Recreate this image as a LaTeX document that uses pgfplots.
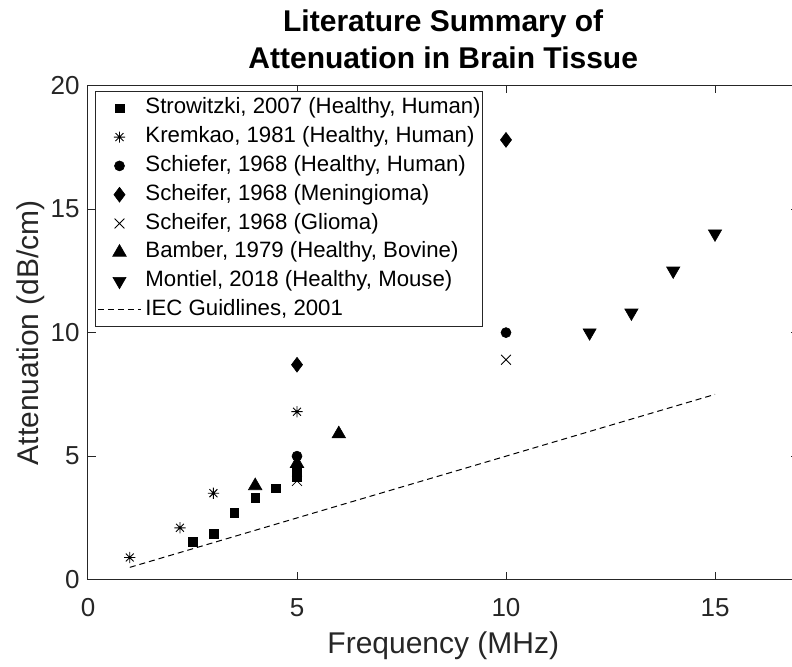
\documentclass[border=0pt]{standalone}
\usepackage{pgfplots}
\pgfplotsset{compat=1.18}
\usepackage{fontspec}
\setmainfont{Liberation Sans}
\definecolor{axgray}{rgb}{0.15,0.15,0.15}
\pgfdeclareplotmark{mstar}{%
  \pgfpathmoveto{\pgfqpoint{0pt}{\pgfplotmarksize}}\pgfpathlineto{\pgfqpoint{0pt}{-\pgfplotmarksize}}%
  \pgfpathmoveto{\pgfqpoint{\pgfplotmarksize}{0pt}}\pgfpathlineto{\pgfqpoint{-\pgfplotmarksize}{0pt}}%
  \pgfpathmoveto{\pgfqpoint{.7071\pgfplotmarksize}{.7071\pgfplotmarksize}}\pgfpathlineto{\pgfqpoint{-.7071\pgfplotmarksize}{-.7071\pgfplotmarksize}}%
  \pgfpathmoveto{\pgfqpoint{-.7071\pgfplotmarksize}{.7071\pgfplotmarksize}}\pgfpathlineto{\pgfqpoint{.7071\pgfplotmarksize}{-.7071\pgfplotmarksize}}%
  \pgfusepathqstroke}
\begin{document}
\begin{tikzpicture}
\path[use as bounding box] (-44pt,-43.15pt) rectangle (352pt,289.85pt);
\clip (-44pt,-43.15pt) rectangle (352pt,289.85pt);
\begin{axis}[
  scale only axis,
  width=355.3pt, height=247.1pt,
  xmin=0, xmax=17, ymin=0, ymax=20,
  xtick={0,5,10,15}, ytick={0,5,10,15,20},
  /pgf/number format/assume math mode=true,
  tick label style={font=\fontsize{13}{15}\selectfont, text=axgray},
  xticklabel style={inner sep=0pt, anchor=north, yshift=-9.15pt},
  yticklabel style={inner sep=0pt, anchor=east, xshift=-4pt},
  major tick length=3.8pt,
  tick align=inside,
  every tick/.style={axgray, line width=0.5pt},
  axis line style={axgray, line width=0.5pt},
  xlabel={Frequency (MHz)},
  ylabel={Attenuation (dB/cm)},
  every axis x label/.style={at={(axis description cs:0.5,0)}, anchor=base, yshift=-37pt,
    font=\fontsize{15}{17}\selectfont, text=axgray},
  every axis y label/.style={at={(axis description cs:0,0.5)}, xshift=-25pt, rotate=90, anchor=base,
    font=\fontsize{15}{17}\selectfont, text=axgray},
  legend image code/.code={\draw[mark repeat=2,mark phase=2,#1] plot coordinates {(0pt,0pt) (10.75pt,0pt) (21.5pt,0pt)};},
  legend style={at={(axis description cs:0,1)}, anchor=north west, xshift=3.5pt, yshift=-2.9pt,
    draw=axgray, line width=0.5pt, fill=white,
    font=\fontsize{11.1}{13}\selectfont,
    inner xsep=1pt, inner ysep=3pt, row sep=3.9pt, column sep=2pt,
    nodes={inner sep=0pt, text height=8pt, text depth=2.5pt}},
  legend cell align=left,
]
\addplot[only marks, mark=square*, mark size=2.2pt, black, mark options={line width=0.3pt}]
  coordinates {(2.5,1.55) (3,1.85) (3.5,2.7) (4,3.3) (4.5,3.7) (5,4.15) (5,4.4)};
\addlegendentry{Strowitzki, 2007 (Healthy, Human)}
\addplot[only marks, mark=mstar, mark size=2.8pt, black, mark options={line width=0.45pt}]
  coordinates {(1,0.9) (2.2,2.1) (3,3.5) (5,6.8)};
\addlegendentry{Kremkao, 1981 (Healthy, Human)}
\addplot[only marks, mark=*, mark size=2.5pt, black, mark options={line width=0.3pt}]
  coordinates {(5,5.0) (10,10.0)};
\addlegendentry{Schiefer, 1968 (Healthy, Human)}
\addplot[only marks, mark=diamond*, mark size=3.7pt, black, mark options={line width=0.3pt}]
  coordinates {(5,8.7) (10,17.8)};
\addlegendentry{Scheifer, 1968 (Meningioma)}
\addplot[only marks, mark=x, mark size=3.5pt, black, mark options={line width=0.4pt}]
  coordinates {(5,4.0) (10,8.9)};
\addlegendentry{Scheifer, 1968 (Glioma)}
\addplot[only marks, mark=triangle*, mark size=3.9pt, black, mark options={line width=0.3pt}]
  coordinates {(4,3.8) (5,4.7) (6,5.9)};
\addlegendentry{Bamber, 1979 (Healthy, Bovine)}
\addplot[only marks, mark=triangle*, mark size=3.8pt, black, mark options={rotate=180, line width=0.3pt}]
  coordinates {(12,10.0) (13,10.8) (14,12.5) (15,14.0)};
\addlegendentry{Montiel, 2018 (Healthy, Mouse)}
\addplot[black, line width=0.5pt, dash pattern=on 3pt off 2pt]
  coordinates {(1,0.5) (15,7.5)};
\addlegendentry{IEC Guidlines, 2001}
\end{axis}
\node[font=\bfseries\fontsize{15}{18}\selectfont, anchor=base] at (177.6pt,274pt) {Literature Summary of};
\node[font=\bfseries\fontsize{15}{18}\selectfont, anchor=base] at (177.6pt,255.7pt) {Attenuation in Brain Tissue};
\end{tikzpicture}
\end{document}
